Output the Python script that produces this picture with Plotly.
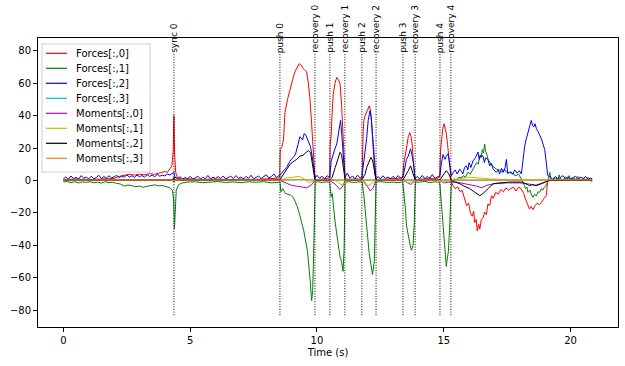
import plotly.graph_objects as go

# ---------------- data ----------------
event_names = ["sync 0", "push 0", "recovery 0", "push 1", "recovery 1", "push 2",
               "recovery 2", "push 3", "recovery 3", "push 4", "recovery 4"]
event_times = [4.36, 8.54, 9.92, 10.51, 11.10, 11.77, 12.33, 13.39, 13.87, 14.85, 15.28]

# Forces[:,0]
t_f0 = [0.0, 0.5, 1.0, 1.5, 2.0, 2.2, 2.4, 2.6, 2.8, 3.0, 3.2, 3.4, 3.6, 3.8, 4.0, 4.1, 4.2, 4.28, 4.33, 4.36,
        4.39, 4.43, 4.5, 4.7, 5.0, 5.5, 6.0, 6.5, 7.0, 7.5, 8.0, 8.3, 8.53,
        8.55, 8.62, 8.68, 8.74, 8.84, 8.94, 9.04, 9.13, 9.22, 9.3, 9.38, 9.45, 9.52, 9.59, 9.66, 9.72, 9.79, 9.86, 9.92,
        10.0, 10.2, 10.4, 10.5,
        10.52, 10.56, 10.6, 10.64, 10.71, 10.78, 10.85, 10.91, 10.97, 11.02, 11.06, 11.11,
        11.3, 11.5, 11.7, 11.78,
        11.82, 11.85, 11.9, 11.96, 12.01, 12.06, 12.1, 12.15, 12.2, 12.24, 12.28, 12.33,
        12.6, 12.9, 13.2, 13.38,
        13.42, 13.46, 13.53, 13.6, 13.66, 13.71, 13.75, 13.8, 13.83, 13.87,
        14.1, 14.4, 14.7, 14.84,
        14.87, 14.91, 14.96, 15.01, 15.05, 15.1, 15.15, 15.2, 15.26, 15.3,
        15.36, 15.45, 15.55, 15.65, 15.72, 15.8, 15.9, 15.98, 16.05, 16.12, 16.18, 16.22, 16.28, 16.32, 16.38, 16.42,
        16.48, 16.55, 16.61, 16.68, 16.74, 16.81, 16.88, 16.95, 17.05, 17.15, 17.25, 17.35, 17.45, 17.55, 17.65, 17.75,
        17.85, 17.95, 18.05, 18.15, 18.22, 18.3, 18.38, 18.45, 18.52, 18.6, 18.68, 18.76, 18.85, 18.95, 19.04, 19.1,
        19.3, 19.6, 20.0, 20.4, 20.85]
y_f0 = [0.5, 0.9, 0.6, 1.0, 1.2, 2.5, 3.2, 3.8, 3.3, 3.9, 3.5, 4.2, 3.8, 4.6, 5.5, 5.0, 7.0, 9.0, 18.0, 40.0,
        15.0, 5.0, 1.5, 0.8, 1.0, 0.6, 0.9, 0.5, 0.8, 0.6, 1.0, 1.2, 1.5,
        19.0, 21.0, 25.0, 42.0, 50.0, 57.0, 62.0, 67.0, 70.0, 72.0, 71.0, 69.0, 68.0, 67.0, 60.0, 51.0, 35.0, 16.0, 1.0,
        0.5, 0.8, 1.0, 1.5,
        22.0, 28.0, 42.0, 53.0, 60.0, 63.5, 62.0, 59.5, 47.0, 30.0, 16.0, 1.0,
        0.6, 1.0, 0.8, 1.5,
        30.0, 37.0, 40.0, 43.0, 44.0, 46.0, 44.0, 37.0, 25.0, 10.0, 4.0, 0.5,
        0.8, 1.0, 1.2, 1.5,
        10.0, 13.0, 20.0, 27.0, 29.5, 27.0, 23.0, 12.0, 7.0, 0.5,
        0.8, 1.2, 1.0, 2.0,
        18.0, 27.0, 32.0, 35.0, 33.0, 29.0, 22.0, 15.0, 5.0, -1.0,
        -3.0, -5.0, -4.0, -7.0, -6.0, -10.0, -15.5, -14.0, -20.0, -22.0, -19.0, -26.0, -24.0, -31.0, -27.0, -30.0,
        -24.0, -23.0, -19.6, -21.0, -14.5, -15.5, -9.4, -11.0, -7.3, -8.5, -5.5, -7.0, -4.5, -6.0, -5.2, -4.0,
        -6.5, -4.2, -5.0, -8.0, -11.4, -14.0, -17.6, -16.0, -18.0, -15.5, -14.0, -15.0, -13.5, -11.0, -9.4, 0.0,
        0.5, 0.3, 0.6, 0.4, 0.5]

# Forces[:,1]
t_f1 = [0.0, 0.15, 0.3, 0.45, 0.6, 0.75, 0.9, 1.05, 1.2, 1.35, 1.5, 1.65, 1.8, 1.95, 2.1, 2.25, 2.4, 2.55, 2.7,
        2.85, 3.0, 3.15, 3.3, 3.45, 3.6, 3.75, 3.9, 4.05, 4.2,
        4.3, 4.35, 4.38, 4.41, 4.45, 4.55, 4.7, 4.9,
        5.2, 5.5, 5.8, 6.1, 6.4, 6.7, 7.0, 7.3, 7.6, 7.9, 8.2, 8.5,
        8.54, 8.58, 8.65, 8.75, 8.85, 8.95, 9.07, 9.15, 9.22, 9.28, 9.33, 9.38, 9.43, 9.48, 9.53, 9.58, 9.63, 9.66,
        9.7, 9.74, 9.79, 9.83, 9.87, 9.9, 9.93,
        10.05, 10.2, 10.35, 10.5,
        10.53, 10.56, 10.6, 10.65, 10.71, 10.78, 10.84, 10.91, 10.97, 11.03, 11.07, 11.11,
        11.25, 11.45, 11.65,
        11.79, 11.82, 11.85, 11.9, 11.96, 12.01, 12.06, 12.13, 12.19, 12.26, 12.3, 12.33,
        12.5, 12.75, 13.0, 13.2, 13.38,
        13.41, 13.45, 13.49, 13.53, 13.58, 13.64, 13.69, 13.73, 13.79, 13.84, 13.88,
        14.05, 14.25, 14.45, 14.65, 14.84,
        14.88, 14.92, 14.96, 15.0, 15.06, 15.1, 15.14, 15.18, 15.24, 15.3,
        15.4, 15.5, 15.6, 15.7, 15.76, 15.85, 15.95, 16.05, 16.15, 16.22, 16.3, 16.36, 16.42, 16.48, 16.52, 16.57,
        16.61, 16.65, 16.68, 16.74, 16.82, 16.9, 17.0, 17.07, 17.2, 17.3, 17.4, 17.47, 17.55, 17.65, 17.75, 17.86,
        17.95, 18.05, 18.12, 18.18, 18.22, 18.28, 18.32, 18.4, 18.46, 18.52, 18.58, 18.65, 18.72, 18.78, 18.85, 18.9,
        18.97, 19.04, 19.12, 19.18, 19.22, 19.3, 19.4, 19.5, 19.55, 19.6, 19.7, 19.8, 19.9, 19.95, 20.0, 20.1,
        20.2, 20.3, 20.4, 20.5, 20.6, 20.7, 20.8, 20.85]
y_f1 = [-1.0, -0.6, -1.3, -0.8, -1.5, -0.9, -1.2, -0.7, -1.4, -1.0, -1.6, -0.8, -1.3, -1.1, -1.8, -2.2, -3.5, -2.8,
        -3.2, -3.9, -3.4, -4.2, -3.6, -3.0, -2.7, -3.3, -3.1, -3.8, -4.5,
        -6.0, -12.0, -30.0, -14.0, -6.0, -2.5, -1.5, -1.0,
        -0.8, -1.3, -1.0, -0.7, -1.2, -0.9, -1.4, -0.8, -1.1, -0.7, -1.5, -1.0,
        -1.0, -7.0, -5.0, -8.0, -8.5, -9.0, -10.4, -13.0, -16.0, -19.0, -22.7, -26.0, -28.0, -31.0, -35.0, -38.0,
        -44.0, -49.5, -55.0, -63.0, -74.0, -68.0, -45.0, -20.0, -1.0,
        -0.8, -1.2, -0.9, -1.0,
        -5.0, -10.0, -8.0, -18.0, -25.0, -33.0, -41.0, -47.0, -50.0, -56.0, -42.0, -1.0,
        -0.8, -1.2, -0.9,
        -1.0, -6.0, -9.0, -18.0, -29.0, -38.0, -45.0, -52.0, -58.0, -50.0, -30.0, -1.0,
        -0.7, -1.2, -1.0, -1.4, -0.8,
        -5.0, -12.0, -18.0, -28.0, -33.0, -38.0, -41.0, -43.0, -40.0, -25.0, -1.0,
        -1.0, -0.6, -1.3, -0.8, -1.2,
        -10.0, -17.0, -28.0, -36.0, -46.0, -53.0, -48.0, -44.0, -26.0, -1.0,
        1.0, 0.5, 2.0, 1.5, 3.0, 2.0, 5.0, 4.0, 7.0, 9.0, 11.0, 10.0, 15.3, 14.0, 19.0, 17.0,
        22.5, 18.0, 17.0, 13.3, 11.0, 9.0, 8.0, 7.0, 6.5, 5.0, 7.0, 5.0, 4.5, 5.5, 3.5, 3.0,
        4.0, 1.0, -1.0, -3.0, -5.0, -4.0, -7.3, -6.0, -9.0, -10.4, -8.5, -9.5, -7.0, -7.3, -5.0, -6.0,
        -4.0, -3.2, 0.0, 5.0, 1.0, 0.5, 1.5, 0.8, 3.5, 1.0, 0.5, 2.0, 1.0, 3.0, 0.5, 1.5,
        0.8, 2.5, 0.3, 1.2, 0.6, 1.8, 0.2, -1.0]

# Forces[:,2]
t_f2 = [0.0, 0.1, 0.2, 0.3, 0.4, 0.5, 0.6, 0.7, 0.8, 0.9, 1.0, 1.1, 1.2, 1.3, 1.4, 1.5, 1.6, 1.7, 1.8, 1.9,
        2.0, 2.1, 2.2, 2.3, 2.4, 2.5, 2.6, 2.7, 2.8, 2.9, 3.0, 3.1, 3.2, 3.3, 3.4, 3.5, 3.6, 3.7, 3.8, 3.9,
        4.0, 4.1, 4.2, 4.3, 4.36, 4.4, 4.5,
        4.6, 4.7, 4.8, 4.9, 5.0, 5.1, 5.2, 5.3, 5.4, 5.5, 5.6, 5.7, 5.8, 5.9, 6.0, 6.1, 6.2, 6.3, 6.4, 6.5,
        6.6, 6.7, 6.8, 6.9, 7.0, 7.1, 7.2, 7.3, 7.4, 7.5, 7.6, 7.7, 7.8, 7.9, 8.0, 8.1, 8.2, 8.3, 8.4, 8.5,
        8.54, 8.6, 8.7, 8.8, 8.94, 9.05, 9.15, 9.25, 9.33, 9.43, 9.5, 9.56, 9.62, 9.68, 9.74, 9.8, 9.87, 9.93,
        10.0, 10.1, 10.2, 10.3, 10.4, 10.5,
        10.56, 10.65, 10.72, 10.78, 10.86, 10.93, 10.98, 11.04, 11.1,
        11.2, 11.3, 11.4, 11.5, 11.6, 11.7, 11.77,
        11.85, 11.89, 11.96, 12.02, 12.09, 12.13, 12.18, 12.27, 12.33,
        12.4, 12.5, 12.6, 12.7, 12.8, 12.9, 13.0, 13.1, 13.2, 13.3, 13.39,
        13.46, 13.53, 13.6, 13.69, 13.74, 13.8, 13.87,
        13.95, 14.05, 14.15, 14.25, 14.35, 14.45, 14.55, 14.65, 14.75, 14.85,
        14.9, 14.97, 15.05, 15.1, 15.17, 15.24, 15.3,
        15.38, 15.45, 15.53, 15.63, 15.7, 15.75, 15.82, 15.89, 15.95, 16.0, 16.07, 16.15, 16.25, 16.35, 16.4, 16.45,
        16.55, 16.6, 16.65, 16.74, 16.81, 16.88, 16.95, 17.07, 17.15, 17.2, 17.28, 17.35, 17.42, 17.47, 17.52, 17.6,
        17.73, 17.8, 17.9, 17.98, 18.06, 18.12, 18.19, 18.26, 18.32, 18.38, 18.45, 18.5, 18.55, 18.6, 18.65, 18.72,
        18.78, 18.85, 18.92, 18.98, 19.05, 19.1,
        19.2, 19.3, 19.4, 19.5, 19.6, 19.7, 19.8, 19.9, 20.0, 20.1, 20.2, 20.3, 20.4, 20.5, 20.6, 20.7, 20.8, 20.85]
y_f2 = [1.0, 2.2, 0.8, 2.8, 1.2, 1.9, 0.9, 3.0, 1.4, 2.1, 1.0, 2.6, 1.1, 1.8, 3.2, 1.3, 2.4, 1.5, 2.9, 1.6,
        2.2, 3.1, 1.8, 2.7, 2.0, 3.4, 2.2, 2.9, 1.9, 3.3, 2.4, 3.0, 2.1, 3.6, 2.5, 3.2, 2.3, 3.8, 2.6, 3.3,
        2.8, 3.9, 3.4, 4.2, 5.0, 2.0, 1.2,
        2.3, 0.9, 1.8, 1.1, 2.5, 0.8, 1.6, 2.7, 1.0, 1.9, 1.2, 3.1, 0.9, 2.0, 1.3, 2.4, 1.1, 2.8, 1.0, 1.7,
        2.6, 1.2, 3.0, 1.4, 2.1, 0.9, 2.5, 1.3, 3.2, 1.1, 1.9, 2.7, 1.2, 2.2, 3.5, 1.6, 2.4, 4.0, 1.8, 2.9,
        3.0, 4.5, 6.0, 8.0, 12.0, 14.0, 16.0, 22.0, 27.0, 25.0, 29.0, 28.0, 26.0, 23.0, 21.0, 16.0, 8.0, 1.5,
        3.2, 1.4, 2.6, 1.0, 2.9, 1.8,
        12.0, 17.0, 20.0, 22.5, 30.0, 37.0, 28.0, 16.0, 2.0,
        4.5, 1.2, 2.8, 1.0, 3.3, 1.5, 2.0,
        12.0, 18.0, 26.0, 37.0, 43.0, 40.0, 31.0, 12.0, 1.0,
        2.4, 1.0, 2.9, 1.3, 2.2, 0.9, 2.6, 1.1, 3.0, 1.4, 2.0,
        8.0, 13.0, 15.0, 19.5, 16.0, 11.0, 1.0,
        2.5, 1.0, 3.1, 1.2, 2.4, 1.5, 3.6, 1.3, 2.2, 3.0,
        10.0, 16.0, 13.0, 15.0, 16.5, 8.0, 3.0,
        5.0, 6.5, 4.0, 7.0, 5.5, 4.0, 8.0, 9.0, 6.5, 11.0, 8.0, 12.0, 14.0, 17.5, 13.0, 15.5,
        15.0, 11.0, 14.0, 13.0, 9.0, 10.5, 7.0, 5.0, 6.5, 4.0, 7.5, 5.0, 8.0, 13.0, 4.5, 5.0,
        4.0, 6.5, 4.5, 6.0, 4.0, 12.0, 21.0, 26.0, 30.0, 33.0, 37.0, 34.0, 33.0, 35.0, 32.0, 30.0,
        28.0, 25.6, 22.0, 19.0, 10.0, 3.0,
        2.0, 0.8, 2.5, 1.0, 1.8, 3.0, 1.1, 2.2, 0.9, 1.7, 2.6, 1.0, 2.0, 1.3, 2.4, 0.8, 1.5, 1.0]

# Forces[:,3]
t_f3 = [0.0, 4.36, 4.4, 8.54, 9.5, 9.92, 20.85]
y_f3 = [0.1, 0.5, 0.1, 0.1, 0.5, 0.1, 0.1]

# Moments[:,0]
t_m0 = [0.0, 4.3, 4.36, 4.42, 8.54, 8.8, 9.0, 9.2, 9.4, 9.6, 9.8, 9.92, 10.51, 10.7, 10.9, 11.0, 11.11, 11.8,
        12.0, 12.1, 12.2, 12.33, 13.4, 13.6, 13.7, 13.87, 14.85, 15.0, 15.2, 15.5, 16.0, 16.3, 16.5, 16.7,
        17.0, 17.5, 18.0, 18.3, 18.6, 19.0, 19.2, 20.0, 20.85]
y_m0 = [0.0, 0.0, -1.0, 0.0, 0.0, -1.5, -3.0, -3.5, -4.0, -4.5, -2.5, 0.0, 0.0, -2.0, -5.5, -4.0, 0.0, 0.0,
        -4.0, -6.5, -5.0, 0.0, 0.0, -2.0, -2.5, 0.0, 0.0, -1.5, -1.0, -1.0, -2.5, -3.5, -4.5, -3.0,
        -2.0, -1.5, -1.5, -2.0, -3.0, -1.0, 0.0, 0.5, 0.5]

# Moments[:,1]
t_m1 = [0.0, 8.54, 8.8, 9.1, 9.3, 9.5, 9.7, 9.92, 10.51, 10.7, 10.9, 11.05, 11.11, 11.77, 11.9, 12.0, 12.15,
        12.33, 13.4, 13.6, 13.87, 14.85, 15.0, 15.3, 15.6, 16.0, 16.3, 16.8, 17.5, 18.5, 20.85]
y_m1 = [0.2, 0.2, 1.5, 2.0, 2.5, 1.0, -1.5, 0.2, 0.2, 0.5, -2.0, -3.0, 0.2, 0.2, -1.0, -3.5, -2.0,
        0.2, 0.2, -1.5, 0.2, 0.2, -1.0, 0.2, 1.0, 2.0, 1.5, 1.0, 0.5, 0.3, 0.3]

# Moments[:,2]
t_m2 = [0.0, 4.3, 4.36, 4.42, 8.54, 8.7, 8.94, 9.1, 9.2, 9.33, 9.45, 9.55, 9.66, 9.75, 9.85, 9.92,
        10.51, 10.6, 10.72, 10.85, 10.91, 10.97, 11.03, 11.11, 11.77, 11.9, 11.96, 12.05, 12.13, 12.2, 12.28, 12.33,
        13.39, 13.5, 13.6, 13.69, 13.78, 13.87, 14.85, 14.95, 15.1, 15.2, 15.3, 15.45, 15.63, 15.8, 16.02, 16.2,
        16.3, 16.42, 16.55, 16.74, 16.94, 17.2, 17.6, 18.1, 18.25, 18.38, 18.5, 18.65, 18.85, 19.04, 19.15, 20.85]
y_m2 = [0.3, 0.3, 2.0, 0.3, 0.5, 4.0, 10.0, 12.0, 13.0, 15.0, 15.5, 17.0, 18.4, 17.0, 8.0, 0.3,
        0.3, 2.0, 8.0, 15.0, 17.4, 16.0, 10.0, 0.3, 0.3, 4.0, 8.0, 12.0, 14.3, 12.0, 5.0, 0.3,
        0.3, 3.0, 6.0, 9.0, 5.0, 0.3, 0.5, 3.0, 6.0, 4.0, 0.0, -1.0, -2.0, -3.5, -5.0, -7.0,
        -8.0, -9.4, -8.0, -5.0, -2.0, -1.5, -1.0, -1.0, -2.0, -3.2, -2.5, -3.2, -2.0, -1.0, 0.0, 0.2]

# Moments[:,3]
t_m3 = [0.0, 4.36, 4.4, 9.0, 16.0, 20.85]
y_m3 = [0.3, 0.6, 0.3, 0.4, 0.4, 0.3]

names = ["Forces[:,0]", "Forces[:,1]", "Forces[:,2]", "Forces[:,3]",
         "Moments[:,0]", "Moments[:,1]", "Moments[:,2]", "Moments[:,3]"]
colors = ["#ff0000", "#008000", "#0000ff", "#00bfbf", "#bf00bf", "#bfbf00", "#000000", "#ff7f0e"]
series = [(t_f0, y_f0), (t_f1, y_f1), (t_f2, y_f2), (t_f3, y_f3),
          (t_m0, y_m0), (t_m1, y_m1), (t_m2, y_m2), (t_m3, y_m3)]

for tt, yy in series:
    assert len(tt) == len(yy), (len(tt), len(yy))

# ---------------- layout geometry (window pixels) ----------------
FONT = "DejaVu Sans"
W, H = 625, 366
PLOT_L, PLOT_R, PLOT_T, PLOT_B = 38, 618, 38, 327
ML, MT, MR, MB = PLOT_L, PLOT_T, W - PLOT_R, H - PLOT_B
PW, PH = PLOT_R - PLOT_L, PLOT_B - PLOT_T


def px_x(px):
    return (px - PLOT_L) / PW


def px_y(py):
    return (PLOT_B - py) / PH


fig = go.Figure()
for (tt, yy), name, col in zip(series, names, colors):
    fig.add_trace(go.Scatter(x=tt, y=yy, mode="lines", name=name, showlegend=False,
                             line=dict(color=col, width=1)))

y_lo, y_hi = -83, 78
for et, en in zip(event_times, event_names):
    fig.add_shape(type="line", xref="x", yref="y", x0=et, x1=et, y0=y_lo, y1=y_hi,
                  line=dict(color="black", width=1, dash="1px,1.6px"))
    fig.add_annotation(x=et, y=y_hi, xref="x", yref="y", text=en, showarrow=False,
                       textangle=-90, xanchor="center", yanchor="bottom", borderpad=0,
                       font=dict(family=FONT, size=9, color="black"))

# legend box (matplotlib style, upper left)
fig.add_shape(type="rect", xref="paper", yref="paper",
              x0=px_x(42), x1=px_x(150), y0=px_y(172), y1=px_y(44),
              line=dict(color="#d0d0d0", width=1), fillcolor="rgba(255,255,255,0.8)", layer="above")
for i, (name, col) in enumerate(zip(names, colors)):
    cy = 53.3 + i * 15.0
    fig.add_shape(type="line", xref="paper", yref="paper",
                  x0=px_x(46), x1=px_x(67), y0=px_y(cy), y1=px_y(cy),
                  line=dict(color=col, width=1.2), layer="above")
    fig.add_annotation(x=px_x(74), y=px_y(cy), xref="paper", yref="paper", text=name,
                       showarrow=False, xanchor="left", yanchor="middle",
                       font=dict(family=FONT, size=10, color="black"))

fig.update_layout(
    width=W, height=H,
    margin=dict(l=ML, r=MR, t=MT, b=MB, autoexpand=False),
    paper_bgcolor="white", plot_bgcolor="white",
    font=dict(family=FONT, size=10, color="black"),
    showlegend=False,
)
fig.update_xaxes(range=[-1.0, 21.87], tickvals=[0, 5, 10, 15, 20], ticks="outside", ticklen=4,
                 tickwidth=1, tickcolor="black", showline=True, linecolor="black", linewidth=1,
                 mirror=True, showgrid=False, zeroline=False, automargin=False,
                 title=dict(text="Time (s)", font=dict(family=FONT, size=10), standoff=3))
fig.update_yaxes(range=[-90.3, 87.8], tickvals=[-80, -60, -40, -20, 0, 20, 40, 60, 80], ticks="outside",
                 ticklen=4, tickwidth=1, tickcolor="black", showline=True, linecolor="black", linewidth=1,
                 mirror=True, showgrid=False, zeroline=False, automargin=False)

fig.write_html("out.html",
               config={"displayModeBar": False},
               post_script="document.body.style.margin='0';document.body.style.overflow='hidden';")
